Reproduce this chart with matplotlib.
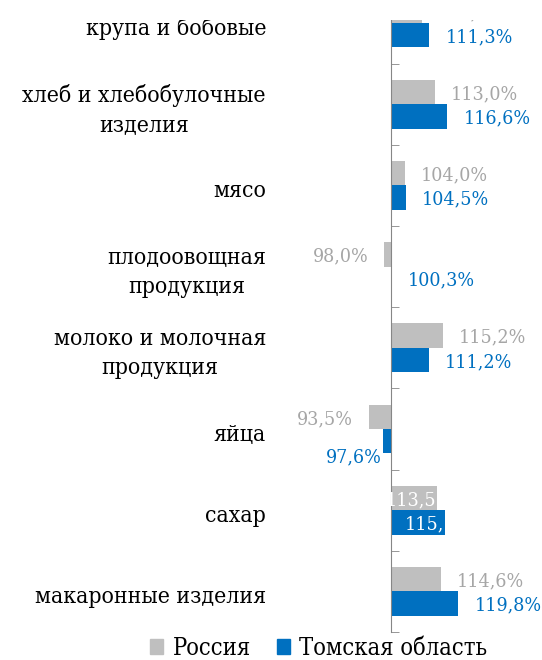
import matplotlib
matplotlib.use("Agg")
import matplotlib.pyplot as plt
from matplotlib.patches import Patch, Rectangle

plt.rcParams['font.family'] = ['DejaVu Serif']
plt.rcParams['font.stretch'] = 'condensed'

categories = ["крупа и бобовые", "хлеб и хлебобулочные\nизделия", "мясо",
              "плодоовощная\nпродукция", "молоко и молочная\nпродукция", "яйца",
              "сахар", "макаронные изделия"]
russia = [109.0, 113.0, 104.0, 98.0, 115.2, 93.5, 113.5, 114.6]
tomsk = [111.3, 116.6, 104.5, 100.3, 111.2, 97.6, 115.8, 119.8]
# Excel cut the labels that did not fit inside the bars
inside_labels = {"сахар": ("113,5", "115,")}

GRAY = "#BFBFBF"
GRAY_TXT = "#A6A6A6"
BLUE = "#0070C0"

fig = plt.figure(figsize=(5.42, 6.60), dpi=100)
ax = fig.add_axes([290/542, 28/660, 252/542, 613/660])

ppu = 3.4  # px per percent
ax.set_xlim(100 - 101/ppu, 100 + 151/ppu)
ax.set_ylim(7.5, -0.05)

h = 0.3
ys = list(range(len(categories)))
ax.barh([y - h/2 for y in ys], [v - 100 for v in russia], left=100, height=h, color=GRAY)
ax.barh([y + h/2 for y in ys], [v - 100 for v in tomsk], left=100, height=h, color=BLUE)

fmt = lambda v: f"{v:.1f}".replace(".", ",") + "%"
gap = 16 / ppu
off = 0.025  # labels sit a little lower than the bar centres
for i, cat in enumerate(categories):
    ax.text(-(290 - 266)/252, i + 0.07, cat, transform=ax.get_yaxis_transform(), fontsize=16.5,
            ha="right", va="center", multialignment="center", linespacing=1.4)
    if cat in inside_labels:
        lr, lt = inside_labels[cat]
        ax.text(russia[i] - 0.2, i - h/2 + off, lr, color="white", fontsize=14, ha="right", va="center")
        ax.text(tomsk[i] - 0.2, i + h/2 + off, lt, color="white", fontsize=14, ha="right", va="center")
        continue
    for val, yy, col in ((russia[i], i - h/2, GRAY_TXT), (tomsk[i], i + h/2, BLUE)):
        if val >= 100:
            ax.text(val + gap, yy + off, fmt(val), color=col, fontsize=14, ha="left", va="center")
        elif col == BLUE:
            ax.text(val - 0.2, yy + 0.2, fmt(val), color=col, fontsize=14, ha="right", va="center")
        else:
            ax.text(val - gap, yy + off, fmt(val), color=col, fontsize=14, ha="right", va="center")

for s in ("top", "right", "bottom"):
    ax.spines[s].set_visible(False)
ax.spines["left"].set_position(("data", 100))
ax.spines["left"].set_color("#868686")
ax.set_xticks([])
ax.set_yticks([])
ax.set_yticks([y + 0.5 for y in ys], minor=True)
ax.tick_params(axis="y", which="minor", direction="in", length=6, color="#868686", labelleft=False)

handles = [Patch(color=GRAY, label="Россия"), Patch(color=BLUE, label="Томская область")]
fig.legend(handles=handles, loc="lower center", bbox_to_anchor=(319/542, -0.032), ncol=2,
           frameon=False, fontsize=17, handlelength=0.55, handleheight=0.55, handletextpad=0.4,
           columnspacing=1.1)

# the original picture is cut at the top
fig.patches.append(Rectangle((0, 1 - 20/660), 1, 20/660, transform=fig.transFigure,
                             facecolor="white", edgecolor="none", zorder=10))

fig.savefig("out.png", dpi=100)
